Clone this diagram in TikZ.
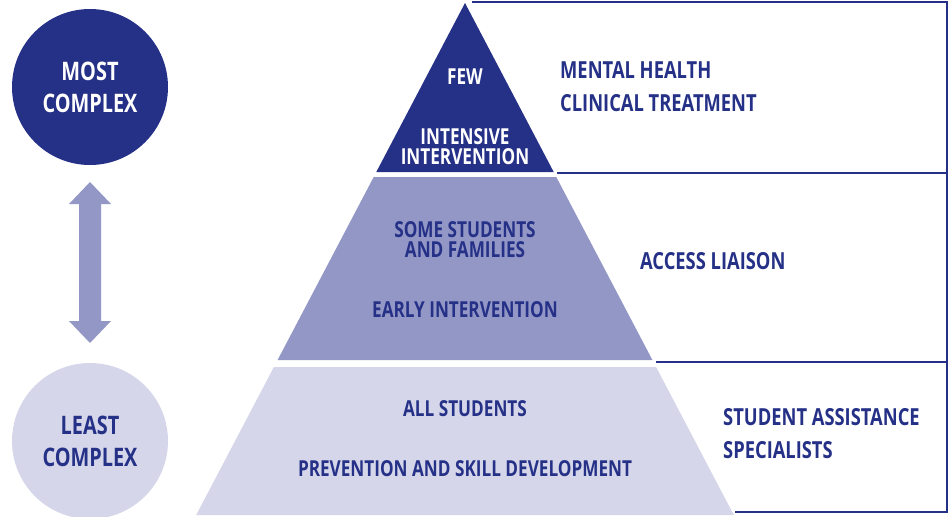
\documentclass[tikz,border=0pt]{standalone}
\usepackage{fontspec}
\newfontfamily\cond[FakeStretch=0.78]{Open Sans}
\definecolor{navy}{RGB}{37,48,135}
\definecolor{mid}{RGB}{147,151,198}
\definecolor{light}{RGB}{213,214,234}
\begin{document}
\begin{tikzpicture}[x=1pt,y=-1pt,
  circtxt/.style={font=\cond\bfseries\fontsize{25.5}{32}\selectfont,align=center,inner sep=0pt},
  pyrtxt/.style={font=\cond\bfseries\fontsize{22}{20}\selectfont,align=center,inner sep=0pt,text=navy},
  sidetxt/.style={font=\cond\bfseries\fontsize{23.5}{33}\selectfont,align=left,inner sep=0pt,anchor=west,text=navy},
  frame/.style={draw=navy,line width=1.8pt}]
\useasboundingbox (0,0) rectangle (951,517);
% circles
\node[circle,fill=navy,minimum size=156pt,inner sep=0pt] (most) at (90,87) {};
\node[circle,fill=light,minimum size=156pt,inner sep=0pt] (least) at (90,441) {};
\node[circtxt,text=white] at (most) {MOST\\COMPLEX};
\node[circtxt,text=navy] at (least) {LEAST\\COMPLEX};
% double arrow
\fill[mid] (90,182) -- (111,204) -- (101,204) -- (101,321) -- (111,321) -- (90,343)
  -- (69,321) -- (79,321) -- (79,204) -- (69,204) -- cycle;
% pyramid
\fill[navy] (465,3) -- (553.7,172) -- (376.3,172) -- cycle;
\fill[mid] (373.7,177) -- (556.3,177) -- (652.4,360) -- (277.6,360) -- cycle;
\fill[light] (273.9,367) -- (656.1,367) -- (733.8,515) -- (196.2,515) -- cycle;
% frame
\draw[frame] (472,2) -- (947,2) -- (947,512) -- (735,512);
\draw[frame] (557,173) -- (947,173);
\draw[frame] (656,362) -- (947,362);
% pyramid text
\node[pyrtxt,text=white] (few) at (465,77) {FEW};
\node[pyrtxt,text=white] (intens) at (465,147) {INTENSIVE\\INTERVENTION};
\node[pyrtxt] (some) at (465,240) {SOME STUDENTS\\AND FAMILIES};
\node[pyrtxt] (early) at (465,310) {EARLY INTERVENTION};
\node[pyrtxt] (all) at (465,409) {ALL STUDENTS};
\node[pyrtxt] (prev) at (465,469) {PREVENTION AND SKILL DEVELOPMENT};
% side text
\node[sidetxt] (mh) at (560,87) {MENTAL HEALTH\\CLINICAL TREATMENT};
\node[sidetxt] (al) at (640,261) {ACCESS LIAISON};
\node[sidetxt] (sa) at (723,434) {STUDENT ASSISTANCE\\SPECIALISTS};
\end{tikzpicture}
\end{document}
